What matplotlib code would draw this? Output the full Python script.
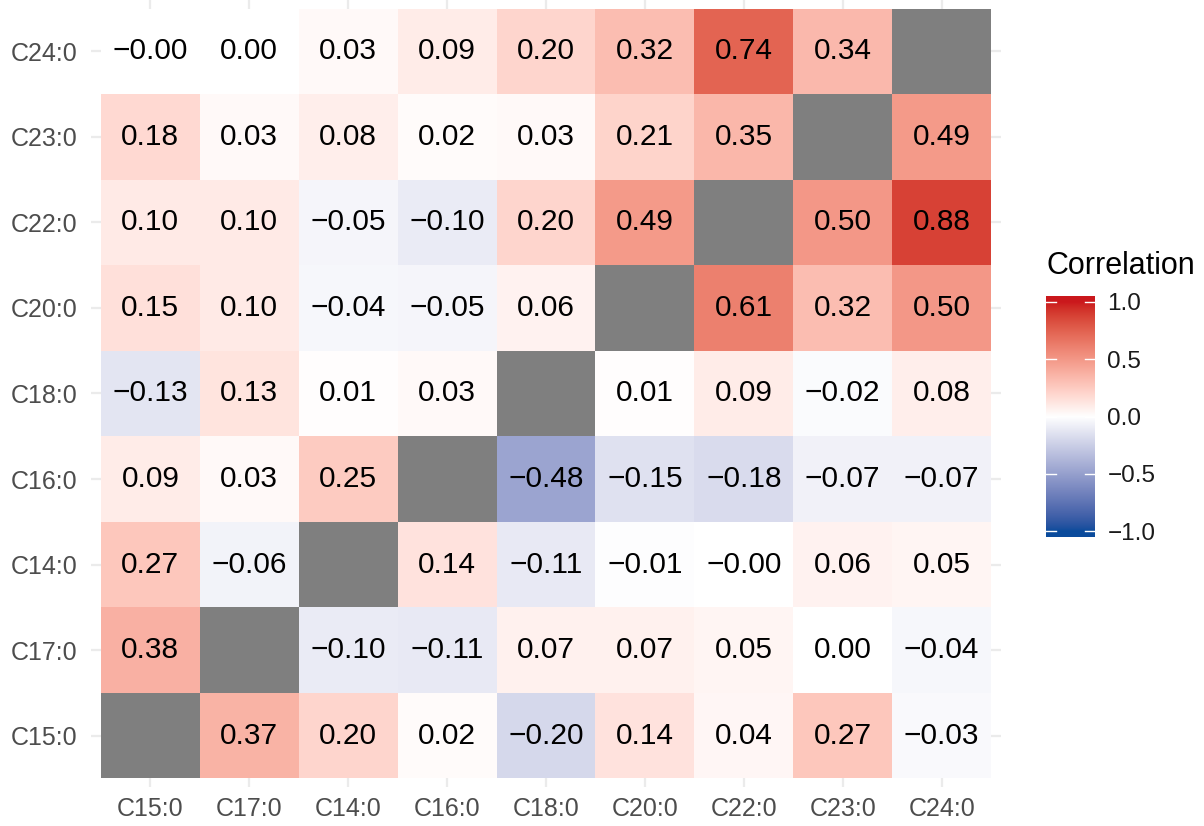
import numpy as np
import matplotlib
matplotlib.use("Agg")
import matplotlib.pyplot as plt
from matplotlib.colors import ListedColormap, Normalize

# ---------------- data ----------------
labels = ["C15:0", "C17:0", "C14:0", "C16:0", "C18:0", "C20:0", "C22:0", "C23:0", "C24:0"]
# rows listed bottom (C15:0) to top (C24:0); columns in `labels` order; None = diagonal (NA)
row_c15 = [None, 0.37, 0.20, 0.02, -0.20, 0.14, 0.04, 0.27, -0.03]
row_c17 = [0.38, None, -0.10, -0.11, 0.07, 0.07, 0.05, 0.00, -0.04]
row_c14 = [0.27, -0.06, None, 0.14, -0.11, -0.01, -0.0, 0.06, 0.05]
row_c16 = [0.09, 0.03, 0.25, None, -0.48, -0.15, -0.18, -0.07, -0.07]
row_c18 = [-0.13, 0.13, 0.01, 0.03, None, 0.01, 0.09, -0.02, 0.08]
row_c20 = [0.15, 0.10, -0.04, -0.05, 0.06, None, 0.61, 0.32, 0.50]
row_c22 = [0.10, 0.10, -0.05, -0.10, 0.20, 0.49, None, 0.50, 0.88]
row_c23 = [0.18, 0.03, 0.08, 0.02, 0.03, 0.21, 0.35, None, 0.49]
row_c24 = [-0.0, 0.00, 0.03, 0.09, 0.20, 0.32, 0.74, 0.34, None]
rows = [row_c15, row_c17, row_c14, row_c16, row_c18, row_c20, row_c22, row_c23, row_c24]
legend_ticks = [-1.0, -0.5, 0.0, 0.5, 1.0]

# ---------------- colour scale (gradient2 in Lab) ----------------
def srgb_to_lab(rgb):
    rgb = np.asarray(rgb, float)
    lin = np.where(rgb <= 0.04045, rgb / 12.92, ((rgb + 0.055) / 1.055) ** 2.4)
    M = np.array([[0.4124564, 0.3575761, 0.1804375],
                  [0.2126729, 0.7151522, 0.0721750],
                  [0.0193339, 0.1191920, 0.9503041]])
    xyz = lin @ M.T
    wp = np.array([0.95047, 1.0, 1.08883])
    t = xyz / wp
    f = np.where(t > (6/29) ** 3, np.cbrt(t), t / (3 * (6/29) ** 2) + 4/29)
    L = 116 * f[..., 1] - 16
    a = 500 * (f[..., 0] - f[..., 1])
    b = 200 * (f[..., 1] - f[..., 2])
    return np.stack([L, a, b], -1)

def lab_to_srgb(lab):
    lab = np.asarray(lab, float)
    fy = (lab[..., 0] + 16) / 116
    fx = fy + lab[..., 1] / 500
    fz = fy - lab[..., 2] / 200
    f = np.stack([fx, fy, fz], -1)
    t = np.where(f > 6/29, f ** 3, 3 * (6/29) ** 2 * (f - 4/29))
    xyz = t * np.array([0.95047, 1.0, 1.08883])
    Minv = np.array([[3.2404542, -1.5371385, -0.4985314],
                     [-0.9692660, 1.8760108, 0.0415560],
                     [0.0556434, -0.2040259, 1.0572252]])
    lin = xyz @ Minv.T
    lin = np.clip(lin, 0, 1)
    rgb = np.where(lin <= 0.0031308, 12.92 * lin, 1.055 * lin ** (1/2.4) - 0.055)
    return np.clip(rgb, 0, 1)

def hex2rgb(h):
    h = h.lstrip("#")
    return np.array([int(h[i:i+2], 16) / 255 for i in (0, 2, 4)])

low, mid, high = hex2rgb("#0A4C9C"), hex2rgb("#FFFFFF"), hex2rgb("#CB181D")
lab_low, lab_mid, lab_high = srgb_to_lab(low), srgb_to_lab(mid), srgb_to_lab(high)
n = 512
s = np.linspace(-1, 1, n)
cols = []
for v in s:
    if v < 0:
        lab = lab_mid + (-v) * (lab_low - lab_mid)
    else:
        lab = lab_mid + v * (lab_high - lab_mid)
    cols.append(lab_to_srgb(lab))
cmap = ListedColormap(np.array(cols))
cmap.set_bad("#7F7F7F")
norm = Normalize(-1, 1)

# ---------------- figure ----------------
plt.rcParams["font.family"] = ["Liberation Sans", "DejaVu Sans"]
fig = plt.figure(figsize=(12.04, 8.26), dpi=100)
W, H = 1204, 826
px0, px1, py0, py1 = 91, 1001, 0, 787
ax = fig.add_axes([px0 / W, 1 - py1 / H, (px1 - px0) / W, (py1 - py0) / H])

mat = np.array([[np.nan if v is None else v for v in r] for r in rows], float)
masked = np.ma.masked_invalid(mat)
nx = len(labels)
ax.set_xlim(-0.6, nx - 0.4)
ax.set_ylim(-0.6, nx - 0.4)
for i in range(nx):
    ax.axvline(i, color="#EBEBEB", lw=1.6, zorder=0)
    ax.axhline(i, color="#EBEBEB", lw=1.6, zorder=0)
ax.pcolormesh(np.arange(nx + 1) - 0.5, np.arange(nx + 1) - 0.5, masked,
              cmap=cmap, norm=norm, shading="flat", zorder=1)

for yi, r in enumerate(rows):
    for xi, v in enumerate(r):
        if v is None:
            continue
        ax.text(xi, yi, f"{v:.2f}".replace("-", "\u2212"), ha="center", va="center",
                fontsize=21.5, color="black", zorder=2)

for sp in ax.spines.values():
    sp.set_visible(False)
ax.set_xticks(range(nx))
ax.set_yticks(range(nx))
ax.set_xticklabels(labels)
ax.set_yticklabels(labels)
ax.tick_params(length=0, labelsize=18, labelcolor="#4D4D4D", pad=7)
ax.tick_params(axis="y", pad=10)

# ---------------- colorbar legend ----------------
cb0, cb1 = 296, 537
cax = fig.add_axes([1046 / W, 1 - cb1 / H, 49 / W, (cb1 - cb0) / H])
ext = 0.05
grad = np.linspace(-1 - ext, 1 + ext, 400).reshape(-1, 1)
cax.imshow(grad, aspect="auto", cmap=cmap, norm=norm, origin="lower",
           extent=[0, 1, -1 - ext, 1 + ext])
cax.set_xlim(0, 1)
cax.set_ylim(-1 - ext, 1 + ext)
for t in legend_ticks:
    cax.plot([0, 0.2], [t, t], color="white", lw=1.0)
    cax.plot([0.8, 1], [t, t], color="white", lw=1.0)
for sp in cax.spines.values():
    sp.set_visible(False)
cax.set_xticks([])
cax.yaxis.tick_right()
cax.set_yticks(legend_ticks)
cax.set_yticklabels([f"{t:.1f}".replace("-", "\u2212") for t in legend_ticks])
cax.tick_params(length=0, labelsize=17.5, labelcolor="#1A1A1A", pad=9)
fig.text(1047 / W, 1 - 266 / H, "Correlation", fontsize=22, ha="left", va="center", color="black")

fig.savefig("out.png", dpi=100)
